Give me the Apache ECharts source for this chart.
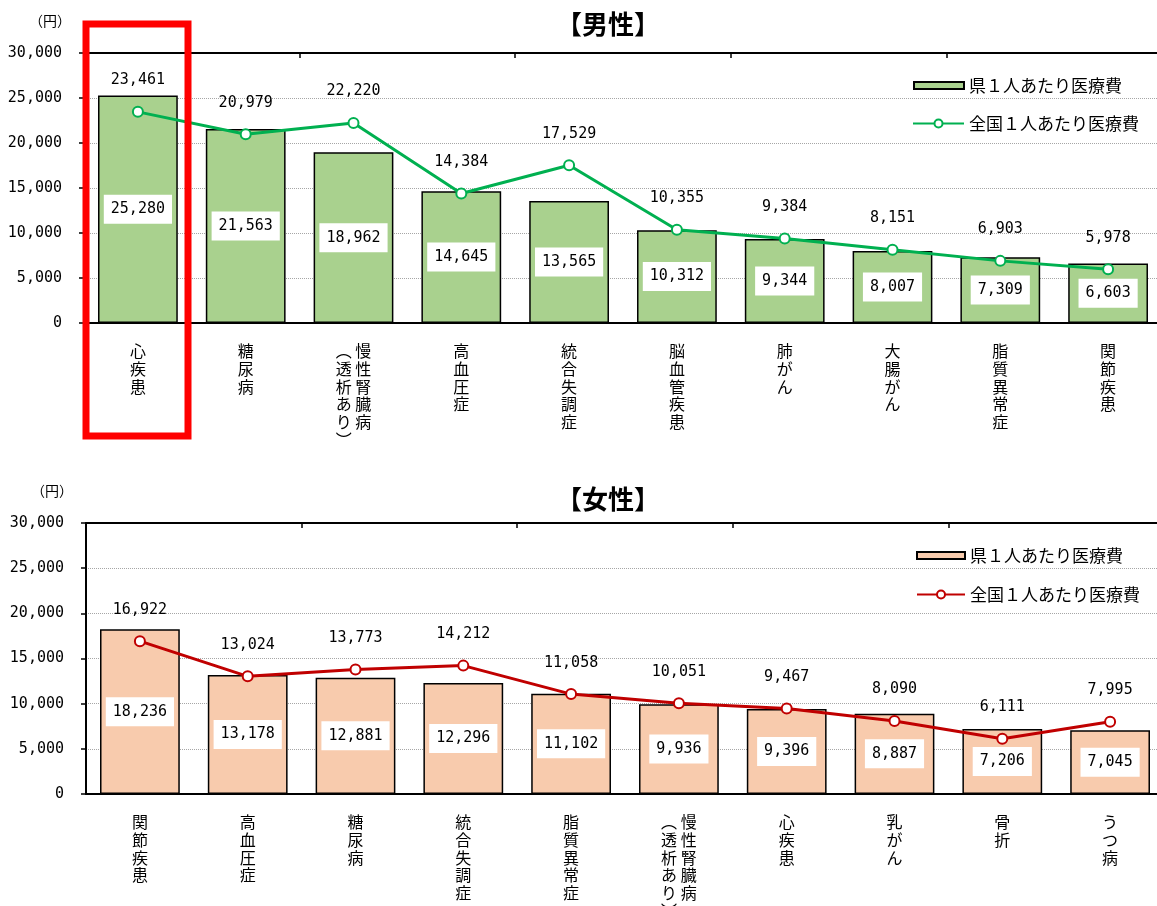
<!DOCTYPE html>
<html>
<head>
<meta charset="utf-8">
<script src="https://cdn.jsdelivr.net/npm/echarts@6/dist/echarts.min.js"></script>
<style>
html,body{margin:0;padding:0;background:#fff;}
#c{width:1157px;height:906px;}
</style>
</head>
<body>
<div id="c"></div>
<script>
// ---- data ----
const maleCategories = ['心疾患','糖尿病','慢性腎臓病（透析あり）','高血圧症','統合失調症','脳血管疾患','肺がん','大腸がん','脂質異常症','関節疾患'];
const malePref = [25280, 21563, 18962, 14645, 13565, 10312, 9344, 8007, 7309, 6603];
const maleNation = [23461, 20979, 22220, 14384, 17529, 10355, 9384, 8151, 6903, 5978];

const femaleCategories = ['関節疾患','高血圧症','糖尿病','統合失調症','脂質異常症','慢性腎臓病（透析あり）','心疾患','乳がん','骨折','うつ病'];
const femalePref = [18236, 13178, 12881, 12296, 11102, 9936, 9396, 8887, 7206, 7045];
const femaleNation = [16922, 13024, 13773, 14212, 11058, 10051, 9467, 8090, 6111, 7995];

const yTicks = [0, 5000, 10000, 15000, 20000, 25000, 30000];
const prefName = '県１人あたり医療費';
const nationName = '全国１人あたり医療費';
const titles = ['【男性】', '【女性】'];
const unitName = '（円）';

// ---- helpers ----
const CJK = '"Noto Sans CJK JP", "Noto Sans", sans-serif';
const NUM = '"DejaVu Sans Mono", monospace';
const fmt = v => Number(v).toLocaleString('en-US');

function vertical(v) {
  const m = v.match(/^(.*)（(.*)）$/);
  if (!m) return v.split('').join('\n');
  const right = m[1].split('');
  const left = ['︵'].concat(m[2].split(''), ['︶']);
  const n = Math.max(left.length, right.length);
  const lines = [];
  for (let i = 0; i < n; i++) {
    lines.push((left[i] || '　') + ' ' + (right[i] || '　'));
  }
  return lines.join('\n');
}

const chart = echarts.init(document.getElementById('c'), null, {renderer: 'canvas'});

const grids = [
  {left: 84, top: 53, width: 1078, height: 270, outerBoundsMode: 'none', containLabel: false},
  {left: 86, top: 523, width: 1078, height: 271, outerBoundsMode: 'none', containLabel: false}
];

function bottomX(gi, cats) {
  return {
    type: 'category', gridIndex: gi, data: cats, position: 'bottom',
    axisLine: {show: true, lineStyle: {color: '#000', width: 2}},
    axisTick: {show: false},
    axisLabel: {
      interval: 0, margin: 19, formatter: vertical,
      fontFamily: CJK, fontSize: 16, lineHeight: 17.8, color: '#000', verticalAlign: 'top'
    }
  };
}
function topX(gi, cats) {
  return {
    type: 'category', gridIndex: gi, data: cats, position: 'top',
    axisLine: {show: true, lineStyle: {color: '#000', width: 2}},
    axisTick: {show: true, inside: true, length: 5, lineStyle: {color: '#000', width: 1.5}},
    axisLabel: {show: false}
  };
}
function yAx(gi) {
  return {
    type: 'value', gridIndex: gi, min: yTicks[0], max: yTicks[yTicks.length - 1],
    interval: yTicks[1] - yTicks[0],
    name: unitName, nameLocation: 'end', nameGap: 25,
    nameTextStyle: {fontFamily: CJK, fontSize: 14, color: '#000', align: 'right', padding: [0, 13, 0, 0]},
    axisLine: {show: true, lineStyle: {color: '#000', width: 2}},
    axisTick: {show: true, length: 5, lineStyle: {color: '#000', width: 1.5}},
    axisLabel: {margin: 22, formatter: fmt, fontFamily: NUM, fontSize: 15, color: '#000'},
    splitLine: {show: true, lineStyle: {color: '#a6a6a6', type: 'dotted', width: 1}}
  };
}

function barSeries(name, xi, yi, data, color) {
  return {
    name: name, type: 'bar', xAxisIndex: xi, yAxisIndex: yi, data: data,
    barCategoryGap: '26%',
    itemStyle: {color: color, borderColor: '#000', borderWidth: 1.5},
    label: {
      show: true, position: 'inside', formatter: p => fmt(p.value),
      backgroundColor: '#fff', padding: [7, 7, 7, 7],
      fontFamily: NUM, fontSize: 15, color: '#000'
    },
    z: 2
  };
}
function lineSeries(name, xi, yi, data, color) {
  return {
    name: name, type: 'line', xAxisIndex: xi, yAxisIndex: yi, data: data,
    symbol: 'circle', symbolSize: 10,
    itemStyle: {color: '#fff', borderColor: color, borderWidth: 2},
    lineStyle: {color: color, width: 3},
    label: {
      show: true, position: 'top', distance: 18, formatter: p => fmt(p.value),
      fontFamily: NUM, fontSize: 15, color: '#000'
    },
    z: 3
  };
}

const labelMap = {m_bar: prefName, m_line: nationName, f_bar: prefName, f_line: nationName};
function legend(name, left, top, w, h, icon) {
  const d = icon ? {name: name, icon: icon} : {name: name};
  return {
    data: [d], left: left, top: top, itemWidth: w, itemHeight: h, itemGap: 0, padding: 0,
    formatter: n => labelMap[n], selectedMode: false,
    textStyle: {fontFamily: CJK, fontSize: 17, color: '#000'}
  };
}

chart.setOption({
  animation: false,
  backgroundColor: '#fff',
  title: [
    {text: titles[0], left: 551, top: 6, textStyle: {fontFamily: CJK, fontSize: 26, fontWeight: 'bold', color: '#000'}},
    {text: titles[1], left: 551, top: 481, textStyle: {fontFamily: CJK, fontSize: 26, fontWeight: 'bold', color: '#000'}}
  ],
  legend: [
    legend('m_bar', 913, 77, 50, 7, 'rect'),
    legend('m_line', 912, 115, 51, 10),
    legend('f_bar', 916, 547, 48, 7, 'rect'),
    legend('f_line', 916, 586, 48, 10)
  ],
  grid: grids,
  xAxis: [bottomX(0, maleCategories), topX(0, maleCategories), bottomX(1, femaleCategories), topX(1, femaleCategories)],
  yAxis: [yAx(0), yAx(1)],
  series: [
    barSeries('m_bar', 0, 0, malePref, '#A9D18E'),
    lineSeries('m_line', 0, 0, maleNation, '#00B050'),
    barSeries('f_bar', 2, 1, femalePref, '#F8CBAD'),
    lineSeries('f_line', 2, 1, femaleNation, '#C00000')
  ],
  graphic: [{
    type: 'rect', z: 100,
    shape: {x: 86, y: 24, width: 102, height: 412},
    style: {fill: 'none', stroke: '#FF0000', lineWidth: 7}
  }]
});
</script>
</body>
</html>
